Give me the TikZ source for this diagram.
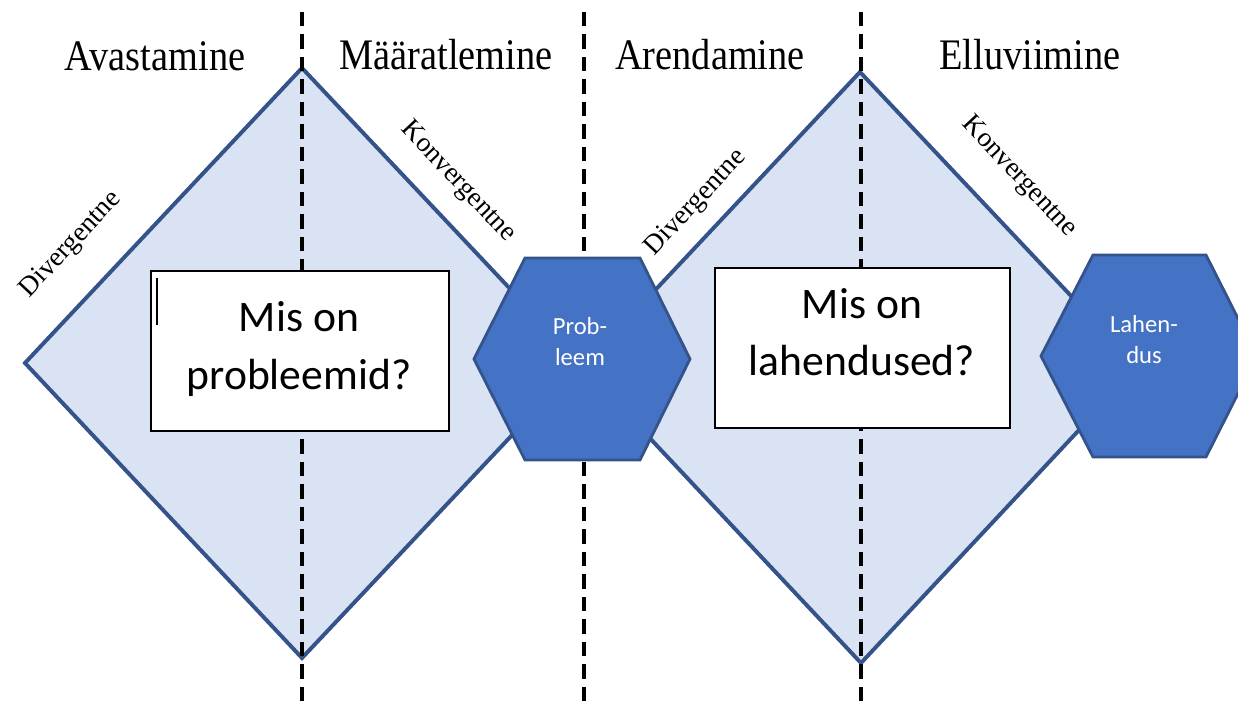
\documentclass[tikz,border=0pt]{standalone}
\usepackage{fontspec}
\setmainfont{Carlito}
\newfontfamily\faasfont[FakeStretch=0.88]{Liberation Serif}
\newfontfamily\servafont{Liberation Serif}
\definecolor{helesinine}{HTML}{DAE3F3}
\definecolor{servjoon}{HTML}{34538A}
\definecolor{kuusnurk}{HTML}{4472C4}
\tikzset{
	romb/.style={fill=helesinine, draw=servjoon, line width=2.8pt, line join=miter},
	eraldaja/.style={line width=2.2pt, dash pattern=on 10pt off 6pt},
	kast/.style={fill=white, draw=black, line width=1pt},
	kuus/.style={fill=kuusnurk, draw=servjoon, line width=2pt},
	faas/.style={font=\faasfont\fontsize{31}{36}\selectfont, anchor=base, inner sep=0pt},
	serv/.style={font=\servafont\fontsize{19.5}{24}\selectfont, inner sep=0pt},
	kysimus/.style={font=\fontsize{31}{41}\selectfont, align=center, inner sep=0pt},
	nimi/.style={font=\fontsize{17.5}{22}\selectfont, align=center, text=white, inner sep=0pt}
}

\begin{document}
\begin{tikzpicture}[x=0.025cm, y=-0.025cm]
		\useasboundingbox (0,0) rectangle (1238,709);
		\clip (0,0) rectangle (1238,709);

		\draw[romb] (302,68) -- (580,363) -- (302,658) -- (25,363) -- cycle;
		\draw[romb] (860,72) -- (1138,367) -- (861,663) -- (583,367) -- cycle;

		\draw[eraldaja] (302,12) -- (302,709);
		\draw[eraldaja] (584,12) -- (584,709);
		\draw[eraldaja] (861,12) -- (861,709);

		\draw[kast] (151,271) rectangle (449,431);
		\draw[kast] (715,268) rectangle (1010,428);
		\draw[line width=1pt] (157,278) -- (157,325);

		\draw[kuus] (474,359) -- (525,258) -- (640,258) -- (690,359) -- (640,460) -- (525,460) -- cycle;
		\draw[kuus] (1041,356) -- (1093,255) -- (1206,255) -- (1257,356) -- (1206,457) -- (1093,457) -- cycle;

		\node[faas] (avastamine) at (155,71) {Avastamine};
		\node[faas] (maaratlemine) at (446,70) {Määratlemine};
		\node[faas] (arendamine) at (710,70) {Arendamine};
		\node[faas] (elluviimine) at (1030,70) {Elluviimine};

		\node[serv, rotate=46.8] (div1) at (71,245) {Divergentne};
		\node[serv, rotate=-46.8] (konv1) at (458,182) {Konvergentne};
		\node[serv, rotate=46.8] (div2) at (696,203) {Divergentne};
		\node[serv, rotate=-46.8] (konv2) at (1019,177) {Konvergentne};

		\node[kysimus] (probleemid) at (299,349) {Mis on\\probleemid?};
		\node[kysimus] (lahendused) at (862,332) {Mis on\\lahendused?};

		\node[nimi] (probleem) at (580,342) {Prob-\\leem};
		\node[nimi] (lahendus) at (1144,340) {Lahen-\\dus};
	\end{tikzpicture}
\end{document}
